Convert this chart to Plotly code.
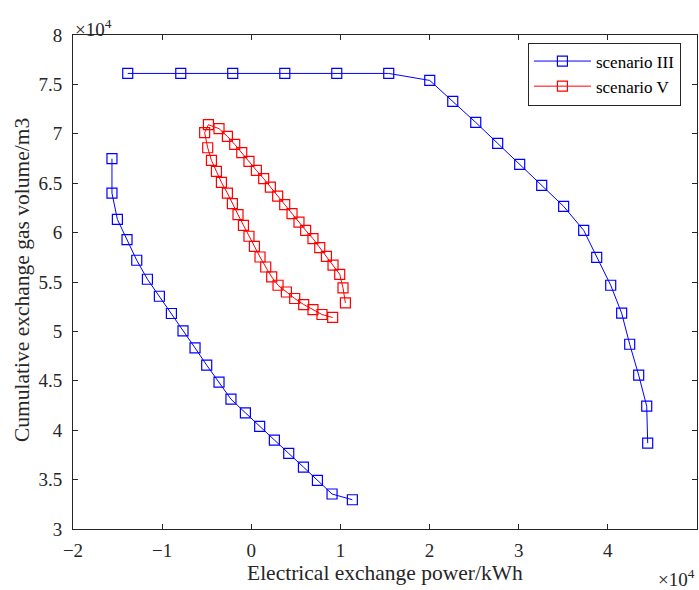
import plotly.graph_objects as go

# Scenario III, upper branch (x in 1e4 kWh, y in 1e4 m3)
s3_upper_x = [-1.386, -0.791, -0.208, 0.376, 0.959, 1.542, 2.002, 2.260, 2.518,
              2.764, 3.011, 3.258, 3.504, 3.729, 3.875, 4.032, 4.155, 4.245,
              4.346, 4.436, 4.447]
s3_upper_y = [7.611, 7.611, 7.611, 7.611, 7.611, 7.611, 7.540, 7.328, 7.115,
              6.903, 6.691, 6.478, 6.266, 6.023, 5.750, 5.467, 5.184, 4.870,
              4.557, 4.243, 3.869]

# Scenario III, lower branch
s3_lower_x = [-1.563, -1.563, -1.502, -1.394, -1.285, -1.165, -1.031, -0.896,
              -0.766, -0.631, -0.500, -0.362, -0.228, -0.066, 0.094, 0.259,
              0.420, 0.585, 0.742, 0.906, 1.134]
s3_lower_y = [6.748, 6.400, 6.134, 5.929, 5.720, 5.528, 5.356, 5.181, 5.005,
              4.833, 4.658, 4.486, 4.314, 4.176, 4.038, 3.900, 3.765, 3.627,
              3.492, 3.354, 3.296]

# Scenario V loop
s5_x = [1.056, 1.029, 0.992, 0.917, 0.843, 0.768, 0.692, 0.610, 0.535, 0.457,
        0.375, 0.296, 0.214, 0.139, 0.057, -0.026, -0.107, -0.186, -0.268,
        -0.362, -0.481, -0.523, -0.489, -0.447, -0.391, -0.335, -0.268, -0.212,
        -0.149, -0.088, -0.026, 0.035, 0.098, 0.162, 0.229, 0.300, 0.394,
        0.487, 0.588, 0.692, 0.793, 0.913]
s5_y = [5.288, 5.440, 5.578, 5.670, 5.760, 5.848, 5.939, 6.023, 6.107, 6.192,
        6.283, 6.370, 6.461, 6.546, 6.630, 6.721, 6.809, 6.893, 6.974, 7.052,
        7.092, 7.011, 6.859, 6.731, 6.620, 6.509, 6.400, 6.293, 6.182, 6.074,
        5.963, 5.861, 5.753, 5.652, 5.551, 5.467, 5.399, 5.333, 5.272, 5.221,
        5.171, 5.141]

x_ticks = [-2, -1, 0, 1, 2, 3, 4, 5]
x_tick_text = ["\u22122", "\u22121", "0", "1", "2", "3", "4", "5"]
y_ticks = [3, 3.5, 4, 4.5, 5, 5.5, 6, 6.5, 7, 7.5, 8]
y_tick_text = ["3", "3.5", "4", "4.5", "5", "5.5", "6", "6.5", "7", "7.5", "8"]

x_title = "Electrical exchange power/kWh"
y_title = "Cumulative exchange gas volume/m3"
exponent_label = "\u00d710<sup>4</sup>"

FONT = "Liberation Serif, Times New Roman, serif"
INK = "#262626"

s3_x = s3_upper_x + [None] + s3_lower_x
s3_y = s3_upper_y + [None] + s3_lower_y

fig = go.Figure()
fig.add_trace(go.Scatter(
    x=s3_x, y=s3_y, mode="lines+markers", name="scenario III",
    line=dict(color="#0000ff", width=1),
    marker=dict(symbol="square-open", size=10, color="#0000ff",
                line=dict(width=1.2)),
    connectgaps=False,
))
fig.add_trace(go.Scatter(
    x=s5_x, y=s5_y, mode="lines+markers", name="scenario V",
    line=dict(color="#ff0000", width=1),
    marker=dict(symbol="square-open", size=10, color="#ff0000",
                line=dict(width=1.2)),
))

axis_common = dict(
    showline=True, linecolor=INK, linewidth=1, mirror="ticks",
    ticks="inside", ticklen=5, tickcolor=INK, tickwidth=1,
    showgrid=False, zeroline=False,
    tickfont=dict(family=FONT, size=19, color=INK),
)

PLOT_H = 494
fig.update_layout(
    width=699, height=590,
    margin=dict(l=73, r=2, t=35, b=61),
    paper_bgcolor="white", plot_bgcolor="white",
    font=dict(family=FONT, size=19, color=INK),
    xaxis=dict(range=[-2, 5], tickvals=x_ticks, ticktext=x_tick_text,
               ticklabelstandoff=4, **axis_common),
    yaxis=dict(range=[3, 8], tickvals=y_ticks, ticktext=y_tick_text,
               ticklabelstandoff=6, **axis_common),
    legend=dict(
        x=681 / 699, xref="paper", xanchor="right",
        y=(529 - 74) / PLOT_H, yanchor="middle",
        bgcolor="white", bordercolor=INK, borderwidth=1,
        font=dict(family=FONT, size=17, color="#000000"),
        tracegroupgap=0, itemwidth=57,
    ),
    showlegend=True,
)

# Axis titles
fig.add_annotation(text=x_title, xref="paper", yref="paper",
                   x=0.5, y=(529 - 573) / PLOT_H, xanchor="center",
                   yanchor="middle", showarrow=False,
                   font=dict(family=FONT, size=21.5, color=INK))
fig.add_annotation(text=y_title, xref="paper", yref="paper",
                   x=(22 - 73) / 624, y=(529 - 280) / PLOT_H,
                   xanchor="center", yanchor="middle", textangle=-90,
                   showarrow=False,
                   font=dict(family=FONT, size=21.5, color=INK))

# Axis exponent labels
fig.add_annotation(text=exponent_label, xref="paper", yref="paper",
                   x=0, y=1, xanchor="left", yanchor="bottom", showarrow=False,
                   font=dict(family=FONT, size=19, color=INK), yshift=-7)
fig.add_annotation(text=exponent_label, xref="paper", yref="paper",
                   x=1, y=0, xanchor="right", yanchor="top", showarrow=False,
                   font=dict(family=FONT, size=19, color=INK), yshift=-35)

fig.write_html("out.html")
